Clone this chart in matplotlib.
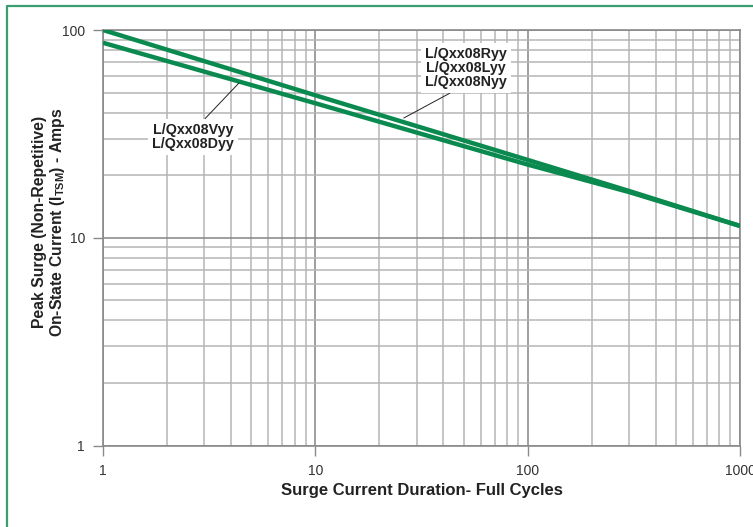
import matplotlib
matplotlib.use("Agg")
import matplotlib.pyplot as plt
from matplotlib.lines import Line2D

plt.rcParams['font.family'] = ['Liberation Sans', 'DejaVu Sans']
plt.rcParams['mathtext.fontset'] = 'custom'
plt.rcParams['mathtext.rm'] = 'Liberation Sans'
plt.rcParams['mathtext.bf'] = 'Liberation Sans:bold'

# Data
cycles = [1, 10, 100, 300, 1000]
rln_current = [100, 48.5, 23.7, 16.8, 11.4]     # L/Qxx08Ryy, Lyy, Nyy
vd_current = [86.8, 44.4, 22.5, 16.6, 11.4]     # L/Qxx08Vyy, Dyy
x_ticks = [1, 10, 100, 1000]
x_tick_labels = ['1', '10', '100', '1000']
y_ticks = [1, 10, 100]
y_tick_labels = ['1', '10', '100']

GREEN = '#0b8a50'
fig = plt.figure(figsize=(7.53, 5.27), dpi=100)
ax = fig.add_axes([103/753, (527-445.5)/527, (740-103)/753, (445.5-30)/527])
ax.set_xscale('log')
ax.set_yscale('log')
ax.set_xlim(1, 1000)
ax.set_ylim(1, 100)

ax.grid(which='major', color='#858585', linewidth=1.1, zorder=0)
ax.grid(which='minor', color='#b5b5b5', linewidth=1.1, zorder=0)
ax.set_axisbelow(True)

ax.plot(cycles, rln_current, color=GREEN, linewidth=3.2, solid_capstyle='butt', zorder=3)
ax.plot(cycles, vd_current, color=GREEN, linewidth=3.2, solid_capstyle='butt', zorder=3)

ax.set_xticks(x_ticks)
ax.set_xticklabels(x_tick_labels)
ax.set_yticks(y_ticks)
ax.set_yticklabels(y_tick_labels)
ax.tick_params(which='major', direction='out', length=7, width=1, color='#8a8a8a',
               labelsize=10, labelcolor='#333333', pad=6)
ax.tick_params(which='minor', length=0)
for s in ax.spines.values():
    s.set_color('#8a8a8a')
    s.set_linewidth(1.2)

ax.set_xlabel('Surge Current Duration- Full Cycles', fontsize=12, fontweight='bold',
              color='#222222', labelpad=4)
ax.set_ylabel('Peak Surge (Non-Repetitive)\nOn-State Current (I$_{\\mathbf{TSM}}$) - Amps',
              fontsize=11.3, fontweight='bold', color='#222222', linespacing=1.1)
ax.yaxis.set_label_coords(-0.056, 0.538)

bbox = dict(boxstyle='square,pad=0.3', facecolor='white', edgecolor='none')
ax.annotate('L/Qxx08Vyy\nL/Qxx08Dyy', xy=(4.37, 55.6), xytext=(2.65, 30.6),
            ha='center', va='center', fontsize=10.3, fontweight='bold', color='#222222',
            linespacing=1.0, bbox=bbox, zorder=5,
            arrowprops=dict(arrowstyle='-', color='#222222', lw=0.7, shrinkA=0, shrinkB=0,
                            relpos=(0.6, 1.0)))
ax.annotate('L/Qxx08Ryy\nL/Qxx08Lyy\nL/Qxx08Nyy', xy=(26.1, 37.7), xytext=(51.2, 65.7),
            ha='center', va='center', fontsize=10.3, fontweight='bold', color='#222222',
            linespacing=1.0, bbox=bbox, zorder=5,
            arrowprops=dict(arrowstyle='-', color='#222222', lw=0.7, shrinkA=0, shrinkB=0,
                            relpos=(0.4, 0.0)))

# green frame
fig.add_artist(Line2D([7/753, 7/753, 1.0], [0.0, 1-6/527, 1-6/527], transform=fig.transFigure,
                      color='#3a9e72', linewidth=1.6))

fig.savefig('out.png', dpi=100)
